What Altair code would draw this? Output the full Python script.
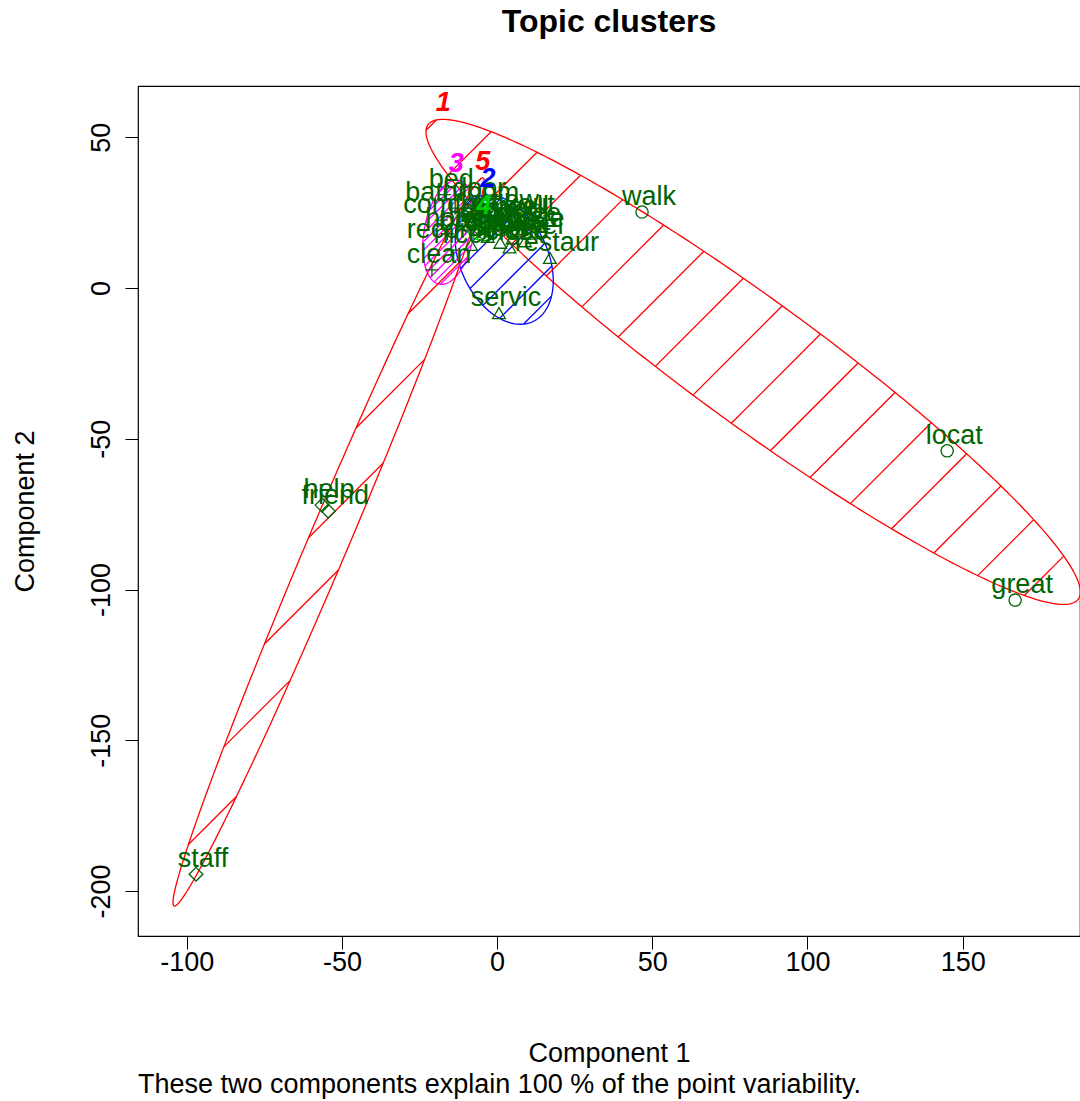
import numpy as np
import pandas as pd
import altair as alt

# Stemmed terms and their coordinates on the first two principal components
words = ["walk", "locat", "great", "time",
         "restaur", "servic", "breakfast", "recommend", "checkout", "place", "good",
         "area", "price", "also", "just", "well", "view", "citi", "close", "excel",
         "clean", "bed", "bathroom", "comfort", "hotel", "nice",
         "room", "stay", "night",
         "staff", "help", "friend", "door"]
comp1 = [46.7, 145.0, 166.9, -2.0,
         17.0, 0.6, -3.0, -8.4, -1.0, 8.0, 3.0,
         5.0, 10.0, -6.0, 1.0, 7.0, 2.5, -9.0, 4.0, 9.0,
         -21.0, -17.0, -13.5, -18.0, -16.0, -14.8,
         -4.5, -2.5, -6.0,
         -97.0, -56.4, -54.4, -8.0]
comp2 = [25.2, -54.0, -103.5, 21.5,
         10.0, -8.3, 17.0, 14.3, 22.5, 19.5, 21.0,
         16.5, 18.0, 19.5, 15.0, 22.0, 24.0, 21.0, 13.5, 15.5,
         6.0, 31.0, 26.5, 22.5, 18.0, 12.6,
         19.5, 18.0, 17.5,
         -194.4, -72.0, -74.0, 28.0]
clusters = ["1", "1", "1", "1",
            "2", "2", "2", "2", "2", "2", "2",
            "2", "2", "2", "2", "2", "2", "2", "2", "2",
            "3", "3", "3", "3", "3", "3",
            "4", "4", "4",
            "5", "5", "5", "5"]

# Cluster ellipses: centre, semi-axes, rotation (degrees) and hatch spacing (px)
ell_id = ["1", "2", "3", "4", "5"]
ell_cx = [82.5, 2.3, -15.5, -4.2, -54.3]
ell_cy = [-24.5, 9.4, 18.5, 18.8, -84.2]
ell_a = [131.0, 22.5, 17.5, 5.0, 130.6]
ell_b = [20.5, 14.2, 8.0, 3.0, 6.5]
ell_angle = [-36.95, -66.7, 80.0, 0.0, 67.6]
hatch_gap = [47, 21, 6, 4, 44]
clus_colors = ["#FF0000", "#0000FF", "#FF00FF", "#00CD00", "#FF0000"]

x_ticks = [-100, -50, 0, 50, 100, 150]
y_ticks = [-200, -150, -100, -50, 0, 50]
x_domain = [-115.7, 187.8]
y_domain = [-214.9, 67.0]
W, H = 942, 850

FONT = "Liberation Sans"
PT_COLOR = "#006400"

kx = W / (x_domain[1] - x_domain[0])
ky = H / (y_domain[1] - y_domain[0])


def to_px(x, y):
    return (x - x_domain[0]) * kx, (y_domain[1] - y) * ky


def to_data(sx, sy):
    return sx / kx + x_domain[0], y_domain[1] - sy / ky


# ellipse outlines
t = np.linspace(0, 2 * np.pi, 361)
outline_rows, hatch_rows, label_rows = [], [], []
for cid, cx, cy, a, b, ang, gap in zip(ell_id, ell_cx, ell_cy, ell_a, ell_b,
                                       ell_angle, hatch_gap):
    th = np.deg2rad(ang)
    ex = cx + a * np.cos(t) * np.cos(th) - b * np.sin(t) * np.sin(th)
    ey = cy + a * np.cos(t) * np.sin(th) + b * np.sin(t) * np.cos(th)
    for i, (xx, yy) in enumerate(zip(ex, ey)):
        outline_rows.append({"cluster": cid, "i": i, "x": xx, "y": yy})
    top = int(np.argmax(ey))
    label_rows.append({"cluster": cid, "x": ex[top], "y": ey[top]})

    # 45-degree hatching in screen space, clipped to the ellipse
    sx, sy = to_px(ex, ey)
    s = sx + sy
    step = gap * np.sqrt(2)
    for c in np.arange(np.ceil(s.min() / step) * step, s.max(), step):
        pts = []
        for k in range(len(sx) - 1):
            f0, f1 = s[k] - c, s[k + 1] - c
            if (f0 < 0) != (f1 < 0):
                u = f0 / (f0 - f1)
                pts.append((sx[k] + u * (sx[k + 1] - sx[k]),
                            sy[k] + u * (sy[k + 1] - sy[k])))
        pts.sort()
        for j in range(0, len(pts) - 1, 2):
            x1, y1 = to_data(*pts[j])
            x2, y2 = to_data(*pts[j + 1])
            hatch_rows.append({"cluster": cid, "x": x1, "y": y1, "x2": x2, "y2": y2})

outline = pd.DataFrame(outline_rows)
hatch = pd.DataFrame(hatch_rows)
clabels = pd.DataFrame(label_rows)
points = pd.DataFrame({"x": comp1, "y": comp2, "word": words, "cluster": clusters})

xscale = alt.Scale(domain=x_domain, nice=False, zero=False)
yscale = alt.Scale(domain=y_domain, nice=False, zero=False)
xaxis = alt.Axis(values=x_ticks, title="Component 1", grid=False, domain=False,
                 tickSize=13, tickColor="black", tickWidth=1,
                 labelFont=FONT, labelFontSize=27, labelColor="black",
                 labelPadding=0, labelFlush=False, labelOverlap=False,
                 labelExpr="'' + datum.value",
                 titleFont=FONT, titleFontSize=27, titleFontWeight="normal",
                 titleColor="black", titleY=117, titleBaseline="middle")
yaxis = alt.Axis(values=y_ticks, title="Component 2", grid=False, domain=False,
                 tickSize=13, tickColor="black", tickWidth=1,
                 labelFont=FONT, labelFontSize=27, labelColor="black",
                 labelAngle=270, labelAlign="center", labelBaseline="bottom",
                 labelPadding=10, labelFlush=False, labelOverlap=False,
                 labelExpr="'' + datum.value",
                 titleFont=FONT, titleFontSize=27, titleFontWeight="normal",
                 titleColor="black", titleAngle=270, titleX=-113, titleY=425,
                 titleBaseline="middle", titleAlign="center")
X = alt.X("x:Q", scale=xscale, axis=xaxis)
Y = alt.Y("y:Q", scale=yscale, axis=yaxis)
clus_color = alt.Color("cluster:N", scale=alt.Scale(domain=ell_id, range=clus_colors),
                       legend=None)

ellipses = alt.Chart(outline).mark_line(strokeWidth=1.3, clip=True).encode(
    x=X, y=Y, order="i:Q", detail="cluster:N", color=clus_color)

shading = alt.Chart(hatch).mark_rule(strokeWidth=1.3, clip=True).encode(
    x=X, y=Y, x2="x2:Q", y2="y2:Q", color=clus_color)

plus_path = "M-1,0H1M0,-1V1"
x_path = "M-0.8,-0.8L0.8,0.8M-0.8,0.8L0.8,-0.8"
symbols = alt.Chart(points).mark_point(filled=False, strokeWidth=1.3,
                                       color=PT_COLOR, opacity=1).encode(
    x=X, y=Y,
    shape=alt.Shape("cluster:N", legend=None,
                    scale=alt.Scale(domain=ell_id,
                                    range=["circle", "triangle-up", plus_path,
                                           x_path, "diamond"])),
    size=alt.Size("cluster:N", legend=None,
                  scale=alt.Scale(domain=ell_id, range=[150, 190, 200, 180, 230])))

word_labels = alt.Chart(points).mark_text(
    font=FONT, fontSize=27, color=PT_COLOR, dx=7, dy=-15, baseline="middle"
).encode(x=X, y=Y, text="word:N")

cluster_labels = alt.Chart(clabels).mark_text(
    font=FONT, fontSize=27, fontWeight="bold", fontStyle="italic",
    dy=-16, baseline="middle"
).encode(x=X, y=Y, text="cluster:N", color=clus_color)

note = alt.Chart(pd.DataFrame({"t": ["These two components explain 100 % of the point variability."]})
                 ).mark_text(font=FONT, fontSize=27, color="black", align="left",
                             baseline="middle").encode(
    x=alt.value(0), y=alt.value(999), text="t:N")

chart = alt.layer(ellipses, shading, symbols, word_labels, cluster_labels, note).properties(
    width=W, height=H,
    title=alt.TitleParams("Topic clusters", font=FONT, fontSize=32, fontWeight="bold",
                          color="black", anchor="middle", offset=22,
                          baseline="alphabetic"),
    autosize=alt.AutoSizeParams(type="none"),
    padding={"left": 138, "top": 86, "right": 0, "bottom": 165},
    background="white",
).configure_view(stroke="black", strokeWidth=1.2)

chart.save("out.html", embed_options={"renderer": "svg", "actions": False})
